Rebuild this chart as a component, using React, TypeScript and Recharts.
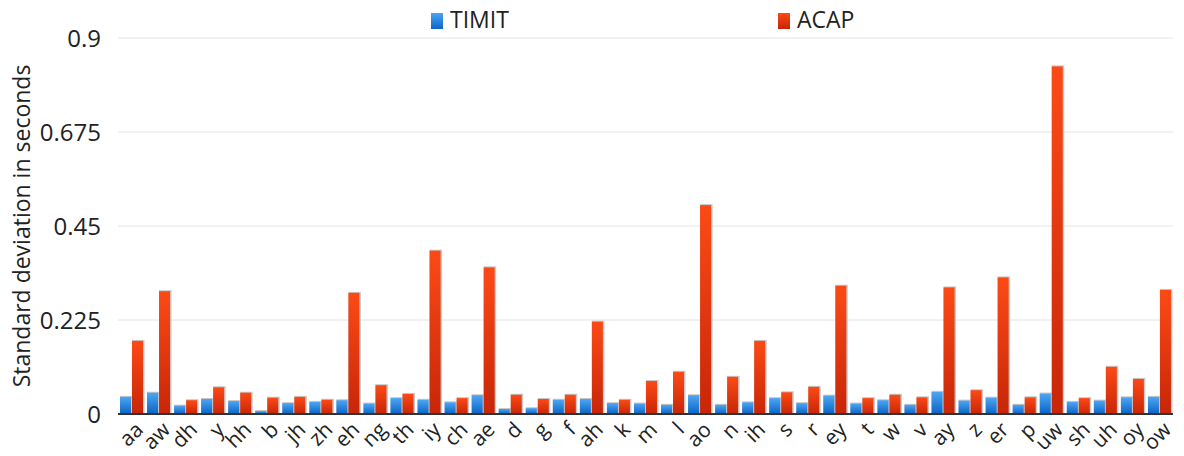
import React from "react";
import { BarChart, Bar, XAxis, YAxis, CartesianGrid } from "recharts";

const categories = ["aa","aw","dh","y","hh","b","jh","zh","eh","ng","th","iy","ch","ae","d","g","f","ah","k","m","l","ao","n","ih","s","r","ey","t","w","v","ay","z","er","p","uw","sh","uh","oy","ow"];
const timit = [0.041,0.051,0.020,0.036,0.031,0.007,0.026,0.029,0.033,0.025,0.038,0.034,0.028,0.045,0.012,0.014,0.034,0.036,0.026,0.025,0.022,0.045,0.022,0.028,0.038,0.026,0.044,0.025,0.033,0.022,0.053,0.032,0.039,0.022,0.049,0.029,0.032,0.040,0.041];
const acap = [0.175,0.294,0.033,0.064,0.051,0.039,0.041,0.034,0.290,0.069,0.048,0.391,0.038,0.351,0.046,0.036,0.046,0.221,0.034,0.079,0.101,0.500,0.089,0.175,0.052,0.065,0.307,0.038,0.046,0.040,0.303,0.057,0.327,0.040,0.832,0.038,0.113,0.084,0.297];
const yTicks = [0, 0.225, 0.45, 0.675, 0.9];
const seriesNames = ["TIMIT", "ACAP"];

const data = categories.map((c, i) => ({ name: c, timit: timit[i], acap: acap[i] }));

const FONT = "'Open Sans', sans-serif";

const XTick = (props: any) => {
  const { x, y, payload } = props;
  const ax = x + 13;
  const ay = y + 9;
  return (
    <text x={ax} y={ay} transform={`rotate(-45 ${ax} ${ay})`} textAnchor="end" fontSize={21} fill="#222" fontFamily={FONT}>
      {payload.value}
    </text>
  );
};

const ShadowBar = (props: any) => {
  const { x, y, width, height, fill } = props;
  if (height <= 0) return null;
  return (
    <g>
      <rect x={x} y={y - 1} width={width + 1.5} height={height + 1} fill="#c8c8c8" />
      <rect x={x} y={y} width={width} height={height} fill={fill} />
    </g>
  );
};

const LegendBox = () => (
  <div style={{ position: "absolute", left: 0, top: 0, width: 1184, height: 40, fontFamily: FONT, fontSize: 23, color: "#222" }}>
    <div style={{ position: "absolute", left: 431, top: 13, width: 12, height: 16, background: "linear-gradient(#4da3f0, #0a66c8)" }} />
    <div style={{ position: "absolute", left: 450, top: 4, lineHeight: "30px" }}>{seriesNames[0]}</div>
    <div style={{ position: "absolute", left: 778, top: 13, width: 12, height: 16, background: "linear-gradient(#fa4a16, #c82508)" }} />
    <div style={{ position: "absolute", left: 797, top: 4, lineHeight: "30px" }}>{seriesNames[1]}</div>
  </div>
);

export default function App() {
  return (
    <div style={{ position: "absolute", left: 0, top: 0, width: 1184, height: 456, background: "#fff" }}>
      <BarChart
        width={1184}
        height={456}
        data={data}
        margin={{ top: 38, right: 11, bottom: 0, left: 0 }}
        barSize={11}
        barGap={1}
      >
        <defs>
          <linearGradient id="gBlue" x1="0" y1="0" x2="0" y2="1">
            <stop offset="0%" stopColor="#4da6f2" />
            <stop offset="100%" stopColor="#0a64c6" />
          </linearGradient>
          <linearGradient id="gRed" x1="0" y1="0" x2="0" y2="1">
            <stop offset="0%" stopColor="#fc4a16" />
            <stop offset="100%" stopColor="#c72608" />
          </linearGradient>
        </defs>
        <CartesianGrid vertical={false} stroke="#e4e4e4" />
        <XAxis
          dataKey="name"
          interval={0}
          tick={<XTick />}
          tickLine={false}
          axisLine={{ stroke: "#333", strokeWidth: 2 }}
          height={42}
        />
        <YAxis
          domain={[0, 0.9]}
          ticks={yTicks}
          width={118}
          tickLine={false}
          axisLine={false}
          tickSize={0}
          tickMargin={17}
          tick={{ fontSize: 24, fill: "#222", fontFamily: FONT }}
          label={{ value: "Standard deviation in seconds", angle: -90, position: "insideLeft", offset: 22, style: { fontSize: 23, fill: "#222", fontFamily: FONT, textAnchor: "middle" } }}
        />
        <Bar dataKey="timit" fill="url(#gBlue)" shape={<ShadowBar />} isAnimationActive={false} />
        <Bar dataKey="acap" fill="url(#gRed)" shape={<ShadowBar />} isAnimationActive={false} />
      </BarChart>
      <LegendBox />
    </div>
  );
}
